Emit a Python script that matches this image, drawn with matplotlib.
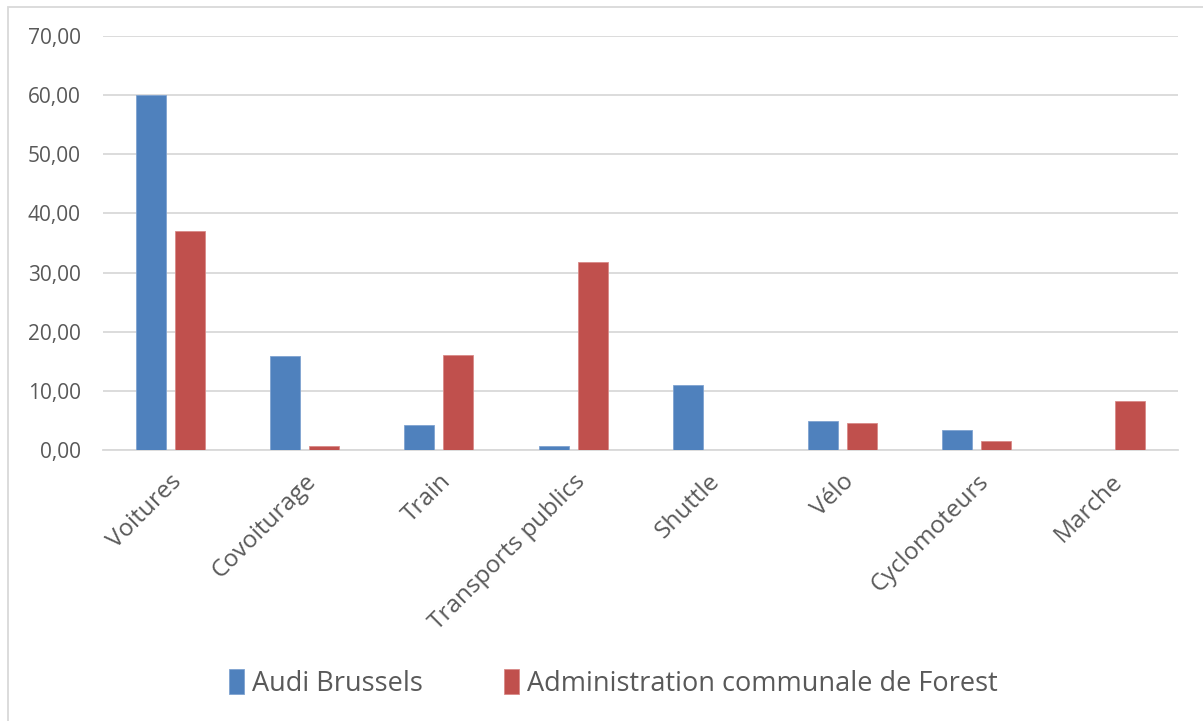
import matplotlib.pyplot as plt
import matplotlib.patches as mpatches
import numpy as np

categories = ["Voitures", "Covoiturage", "Train", "Transports publics",
              "Shuttle", "Vélo", "Cyclomoteurs", "Marche"]
audi = [60.0, 15.9, 4.2, 0.6, 10.9, 4.9, 3.3, 0.0]
forest = [37.1, 0.7, 16.1, 31.7, 0.0, 4.6, 1.5, 8.2]
series_names = ["Audi Brussels", "Administration communale de Forest"]
yticks = [0, 10, 20, 30, 40, 50, 60, 70]

plt.rcParams['font.family'] = ['Open Sans', 'DejaVu Sans']

fig = plt.figure(figsize=(12.03, 7.21), dpi=100)
ax = fig.add_axes([0.0856, 0.376, 0.8936, 0.574])

x = np.arange(len(categories))
w = 0.223
off = 0.145
b1 = ax.bar(x - off, audi, w, color="#4F81BD", edgecolor="#7FA3D1", linewidth=0.6, zorder=3)
b2 = ax.bar(x + off, forest, w, color="#C0504D", edgecolor="#D98A88", linewidth=0.6, zorder=3)

ax.set_xlim(-0.5, len(categories) - 0.5)
ax.set_ylim(0, 70)
ax.set_yticks(yticks)
ax.set_yticklabels(["%d,00" % v for v in yticks])
ax.yaxis.grid(True, color="#d9d9d9", linewidth=1.3, zorder=0)
for s in ["top", "right", "left"]:
    ax.spines[s].set_visible(False)
ax.spines["bottom"].set_color("#d9d9d9")
ax.spines["bottom"].set_linewidth(1.3)
ax.set_xticks(x)
ax.set_xticklabels(categories, rotation=45, ha="right", rotation_mode="anchor")
ax.tick_params(axis="y", length=0, labelsize=15, colors="#595959", pad=16)
ax.tick_params(axis="x", length=0, labelsize=17.5, colors="#595959", pad=14)

fig.legend([b1, b2], series_names, loc="center", bbox_to_anchor=(0.51, 0.052),
           ncol=2, frameon=False, fontsize=19.5, handlelength=0.55, handleheight=1.0,
           handletextpad=0.3, columnspacing=3.0, labelcolor="#595959")

fig.patches.append(mpatches.Rectangle((0.007, -0.01), 1.2, 1.0, transform=fig.transFigure,
                                      fill=False, edgecolor="#d9d9d9", linewidth=1.3))

fig.savefig("out.png", dpi=100)
